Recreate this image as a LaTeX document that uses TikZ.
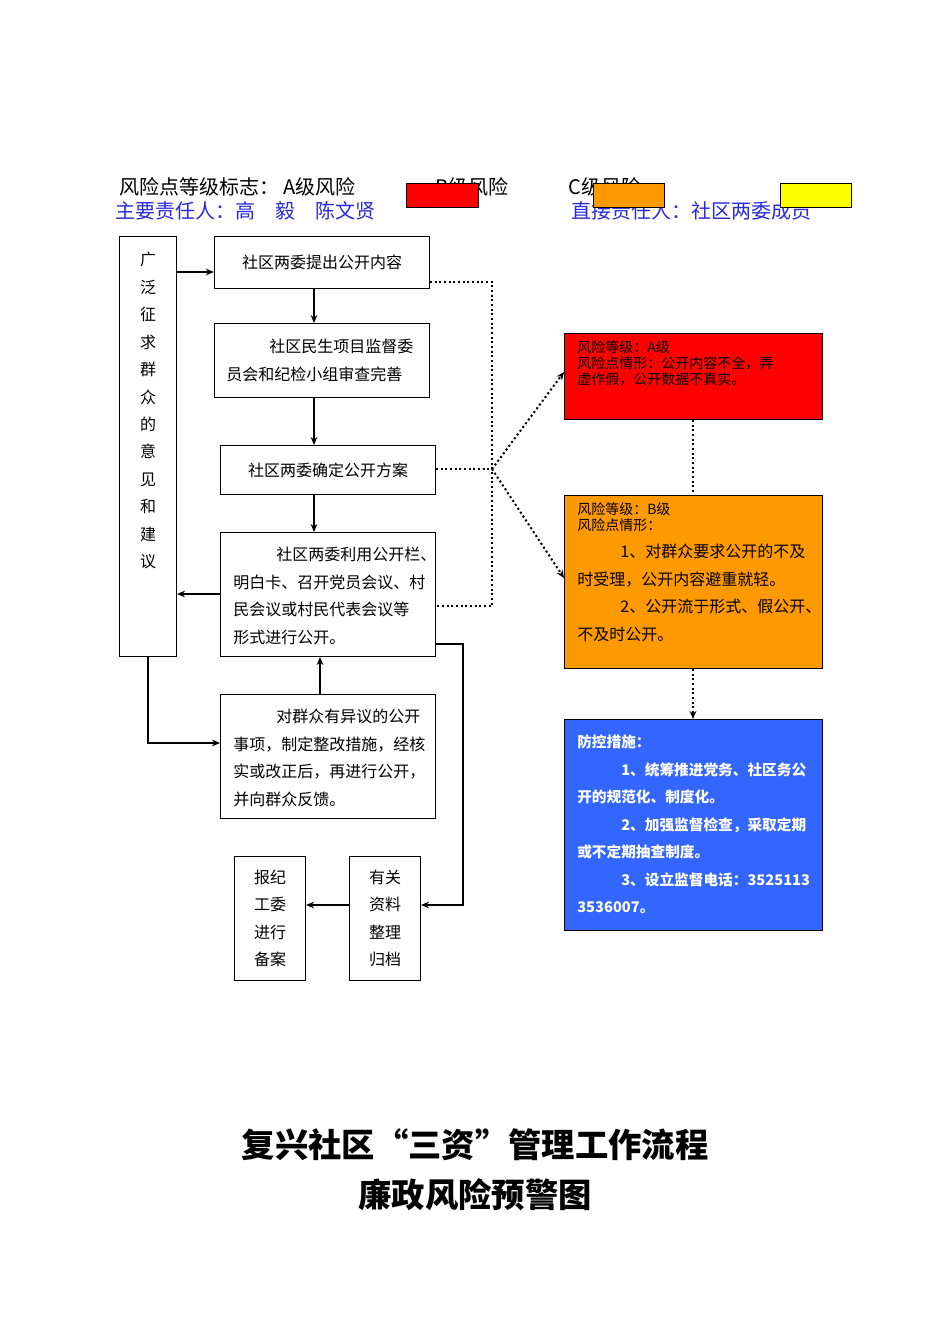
\documentclass[tikz,border=0pt]{standalone}
\usepackage{fontspec}
\setmainfont{Noto Sans CJK SC}
\usetikzlibrary{arrows.meta}
\definecolor{rred}{RGB}{255,0,0}
\definecolor{rorange}{RGB}{255,153,0}
\definecolor{ryellow}{RGB}{255,255,0}
\definecolor{rblue}{RGB}{51,102,255}
\definecolor{tblue}{RGB}{40,40,220}
\tikzset{
 fbox/.style={draw,line width=0.8pt,inner sep=0},
 txt/.style={font=\fontsize{12}{20.6}\selectfont,align=left,anchor=north west,inner sep=0},
 rtxt/.style={font=\fontsize{10.5}{12}\selectfont,align=left,anchor=north west,inner sep=0},
 arr/.style={-{Stealth[length=6pt,width=5pt]},line width=0.8pt},
 dot/.style={dotted,line width=1.5pt},
 darr/.style={dotted,line width=1.5pt,-{Stealth[length=6pt,width=5pt]}},
}
\begin{document}
\begin{tikzpicture}[x=0.75pt,y=-0.75pt]
\useasboundingbox (0,0) rectangle (950,1344);
% legend
\node[anchor=west,inner sep=0,font=\fontsize{15}{15}\selectfont] (l1) at (119,187) {风险点等级标志：\ A级风险};
\node[anchor=west,inner sep=0,font=\fontsize{15}{15}\selectfont] (l2) at (435,187) {B级风险};
\node[anchor=west,inner sep=0,font=\fontsize{15}{15}\selectfont] (l3) at (568,187) {C级风险};
\node[anchor=west,inner sep=0,font=\fontsize{15}{15}\selectfont,text=tblue] (l4) at (115,211) {主要责任人：高\quad 毅\quad 陈文贤};
\node[anchor=west,inner sep=0,font=\fontsize{15}{15}\selectfont,text=tblue] (l5) at (571,211) {直接责任人：社区两委成员};
\draw[fill=rred] (406,183) rectangle (478,207);
\draw[fill=rorange] (593,183) rectangle (664,207);
\draw[fill=ryellow] (780,183) rectangle (851,207);
% left column
\node[fbox,minimum width=42.75pt,minimum height=315pt,anchor=north west] (L) at (119,236) {};
\node[anchor=north,inner sep=0,align=center,font=\fontsize{12}{20.6}\selectfont] (Lt) at (148,252) {广\\泛\\征\\求\\群\\众\\的\\意\\见\\和\\建\\议};
% flow boxes
\node[fbox,minimum width=161.25pt,minimum height=39pt,anchor=north west] (B1) at (214,236) {};
\node[txt,anchor=center] (B1t) at (B1.center) {社区两委提出公开内容};
\node[fbox,minimum width=161.25pt,minimum height=55.5pt,anchor=north west] (B2) at (214,323) {};
\node[txt] (B2t) at (226,339) {\hspace*{2.7em}社区民生项目监督委\\员会和纪检小组审查完善};
\node[fbox,minimum width=161.25pt,minimum height=36.75pt,anchor=north west] (B3) at (220,445) {};
\node[txt,anchor=center] (B3t) at (B3.center) {社区两委确定公开方案};
\node[fbox,minimum width=161.25pt,minimum height=93pt,anchor=north west] (B4) at (220,532) {};
\node[txt] (B4t) at (233,547) {\hspace*{2.7em}社区两委利用公开栏、\\明白卡、召开党员会议、村\\民会议或村民代表会议等\\形式进行公开。};
\node[fbox,minimum width=161.25pt,minimum height=93pt,anchor=north west] (B5) at (220,694) {};
\node[txt] (B5t) at (233,709) {\hspace*{2.7em}对群众有异议的公开\\事项，制定整改措施，经核\\实或改正后，再进行公开，\\并向群众反馈。};
\node[fbox,minimum width=53.25pt,minimum height=93pt,anchor=north west] (B6) at (234,856) {};
\node[txt,anchor=center,align=center] (B6t) at (B6.center) {报纪\\工委\\进行\\备案};
\node[fbox,minimum width=53.25pt,minimum height=93pt,anchor=north west] (B7) at (349,856) {};
\node[txt,anchor=center,align=center] (B7t) at (B7.center) {有关\\资料\\整理\\归档};
% risk boxes
\node[fbox,fill=rred,minimum width=193.5pt,minimum height=64.5pt,anchor=north west] (R1) at (564,333) {};
\node[rtxt] (R1t) at (577,340) {风险等级：A级\\风险点情形：公开内容不全，弄\\虚作假，公开数据不真实。};
\node[fbox,fill=rorange,minimum width=193.5pt,minimum height=129.75pt,anchor=north west] (R2) at (564,495) {};
\node[rtxt] (R2a) at (577,502) {风险等级：B级\\风险点情形：};
\node[txt] (R2b) at (577,544) {\hspace*{2.7em}1、对群众要求公开的不及\\时受理，公开内容避重就轻。\\\hspace*{2.7em}2、公开流于形式、假公开、\\不及时公开。};
\node[fbox,fill=rblue,minimum width=193.5pt,minimum height=158.25pt,anchor=north west] (R3) at (564,719) {};
\node[txt,text=white,font=\fontsize{11}{20.6}\selectfont\bfseries] (R3t) at (577,735) {防控措施：\\\hspace*{3em}1、统筹推进党务、社区务公\\开的规范化、制度化。\\\hspace*{3em}2、加强监督检查，采取定期\\或不定期抽查制度。\\\hspace*{3em}3、设立监督电话：3525113\\3536007。};
% helper coordinates
\coordinate (y272) at (0,272);
\coordinate (x314) at (314,0);
\coordinate (x320) at (320,0);
\coordinate (y594) at (0,594);
\coordinate (x148) at (148,0);
\coordinate (y743) at (0,743);
\coordinate (y905) at (0,905);
\coordinate (c1) at (463,644);
\coordinate (d1) at (492,282);
\coordinate (d2) at (492,469);
\coordinate (d3) at (492,606);
\coordinate (y372) at (0,372);
\coordinate (y578) at (0,578);
\coordinate (x693) at (693,0);
% connectors
\draw[arr] (L.east |- y272) -- (B1.west |- y272);
\draw[arr] (B1.south -| x314) -- (B2.north -| x314);
\draw[arr] (B2.south -| x314) -- (B3.north -| x314);
\draw[arr] (B3.south -| x314) -- (B4.north -| x314);
\draw[arr] (B4.west |- y594) -- (L.east |- y594);
\draw[arr] (L.south -| x148) |- (B5.west |- y743);
\draw[arr] (B5.north -| x320) -- (B4.south -| x320);
\draw[arr] (B4.east |- c1) -- (c1) |- (B7.east |- y905);
\draw[arr] (B7.west |- y905) -- (B6.east |- y905);
\draw[dot] (B1.east |- d1) -- (d1) -- (d3) -- (B4.east |- d3);
\draw[dot] (B3.east |- d2) -- (d2);
\draw[darr] (d2) -- (R1.west |- y372);
\draw[darr] (d2) -- (R2.west |- y578);
\draw[dot] (R1.south -| x693) -- (R2.north -| x693);
\draw[darr] (R2.south -| x693) -- (R3.north -| x693);
% title
\node[font=\fontsize{25}{25}\selectfont\bfseries,inner sep=0] (T1) at (475,1145) {复兴社区“三资”管理工作流程};
\node[font=\fontsize{25}{25}\selectfont\bfseries,inner sep=0] (T2) at (475,1195) {廉政风险预警图};
\end{tikzpicture}
\end{document}
